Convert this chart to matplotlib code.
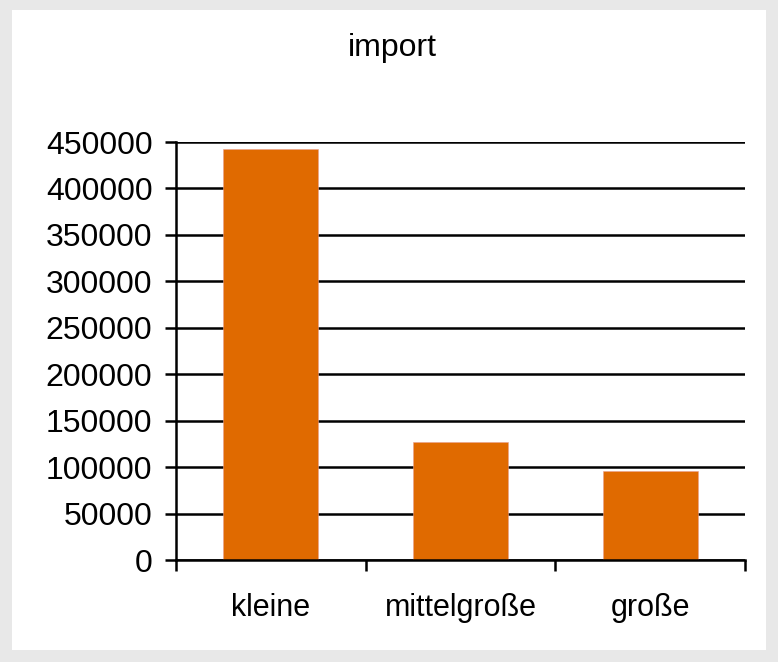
import matplotlib
matplotlib.use("Agg")
import matplotlib.pyplot as plt
from matplotlib.patches import Rectangle

categories = ["kleine", "mittelgroße", "große"]
values = [442000, 127000, 96000]
yticks = [0, 50000, 100000, 150000, 200000, 250000, 300000, 350000, 400000, 450000]
title = "import"

plt.rcParams['font.family'] = ['Liberation Sans', 'DejaVu Sans']

W, H = 778, 662
fig = plt.figure(figsize=(W/100, H/100), dpi=100)
fig.patch.set_facecolor('#E8E8E8')
fig.patches.append(Rectangle((12/W, 1-650/H), (766-12)/W, (650-10)/H,
                             transform=fig.transFigure, facecolor='white',
                             edgecolor='none', zorder=-10))

ax = fig.add_axes([176/W, 1-560/H, (745-176)/W, (560-142)/H])
ax.set_zorder(1)
ax.set_facecolor('none')
x = list(range(len(categories)))
ax.bar(x, values, width=0.5, color='#E06A00', edgecolor='#E9A090', linewidth=0.4, zorder=3)

ax.set_xlim(-0.5, len(categories)-0.5)
ax.set_ylim(0, 450000)
ax.set_yticks(yticks)
ax.set_yticklabels([str(v) for v in yticks], fontsize=23)
ax.yaxis.grid(True, color='black', linewidth=1.8, zorder=1)
ax.set_axisbelow(True)
ax.set_xticks(x)
ax.set_xticklabels(categories, fontsize=22)
ax.tick_params(axis='x', which='major', length=0, pad=24)
ax.set_xticks([i-0.5 for i in range(len(categories)+1)], minor=True)
ax.tick_params(axis='x', which='minor', length=8, width=1.8, direction='out')
ax.tick_params(axis='y', length=8, width=1.8, pad=9)

for s in ['top', 'right']:
    ax.spines[s].set_visible(False)
for s in ['left', 'bottom']:
    ax.spines[s].set_linewidth(1.8)
    ax.spines[s].set_zorder(4)

fig.text(392/W, 1-48/H, title, fontsize=23, ha='center', va='center')

fig.savefig("out.png", dpi=100, facecolor=fig.get_facecolor())
